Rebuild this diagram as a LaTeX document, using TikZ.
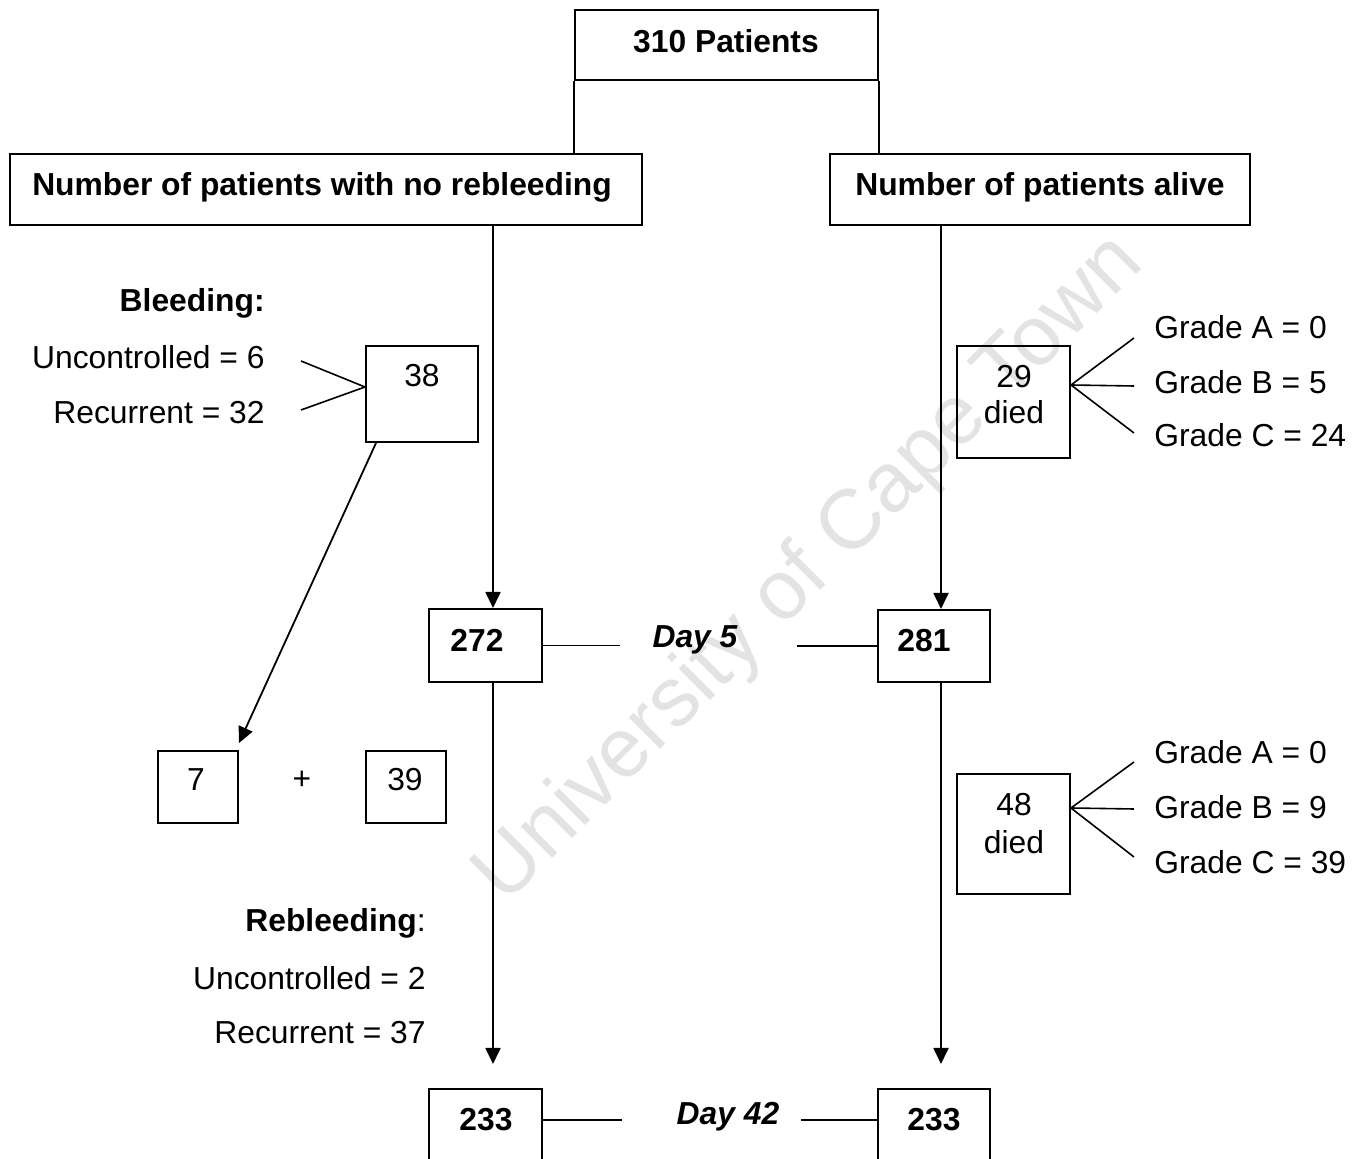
\documentclass[tikz,border=0pt]{standalone}
\usepackage{fontspec}
\setmainfont{Liberation Sans}
\usetikzlibrary{arrows.meta,calc}
\begin{document}
\begin{tikzpicture}[x=0.5pt,y=-0.5pt,
  font=\fontsize{15.9pt}{19pt}\selectfont,
  box/.style={draw, line width=1pt, inner sep=0pt},
  txt/.style={inner sep=0pt},
  bt/.style={inner sep=0pt, font=\fontsize{15.9pt}{19pt}\selectfont\bfseries},
  bit/.style={inner sep=0pt, font=\fontsize{15.9pt}{19pt}\selectfont\bfseries\itshape},
  ln/.style={line width=0.8pt},
  arr/.style={line width=0.9pt, -{Triangle[width=7.5pt,length=8pt]}},
  wmark/.style={inner sep=0pt, rotate=45, text=black!11, font=\fontsize{42pt}{50pt}\selectfont}
]
\useasboundingbox (0,0) rectangle (1356,1159);
\clip (0,0) rectangle (1356,1159);
\fill[white] (0,0) rectangle (1356,1159);
% watermark
\node[wmark] (wm) at (810,570) {University of Cape Town};

% boxes
\node[box, minimum width=151.5pt, minimum height=35pt] (top) at (726.5,45) {};
\node[box, minimum width=316pt, minimum height=35.5pt] (left) at (326,189.5) {};
\node[box, minimum width=210pt, minimum height=35.5pt] (right) at (1040,189.5) {};
\node[box, minimum width=56pt, minimum height=48pt] (b38) at (422,394) {};
\node[box, minimum width=56.5pt, minimum height=56pt] (d29) at (1013.5,402) {};
\node[box, minimum width=56.5pt, minimum height=36.5pt] (b272) at (485.5,645.5) {};
\node[box, minimum width=56pt, minimum height=36pt] (b281) at (934,646) {};
\node[box, minimum width=40pt, minimum height=36pt] (b7) at (198,787) {};
\node[box, minimum width=40pt, minimum height=36pt] (b39) at (406,787) {};
\node[box, minimum width=56.5pt, minimum height=60pt] (d48) at (1013.5,834) {};
\node[box, minimum width=56.5pt, minimum height=40pt] (b233l) at (485.5,1129) {};
\node[box, minimum width=56pt, minimum height=40pt] (b233r) at (934,1129) {};

% texts
\node[bt] (t310) at (726,41) {310 Patients};
\node[bt] (tleft) at (322,187) {Number of patients with no rebleeding};
\node[bt] (tright) at (1040,187) {Number of patients alive};
\node[bt, anchor=east] (bleed) at (265,303) {Bleeding:};
\node[txt, anchor=east] (unc6) at (265,357) {Uncontrolled = 6};
\node[txt, anchor=east] (rec32) at (265,413) {Recurrent = 32};
\node[txt] (t38) at (422,376) {38};
\node[txt] (t29) at (1014,377) {29};
\node[txt] (t29d) at (1014,412) {died};
\node[txt, anchor=west] (gA1) at (1154,327) {Grade A = 0};
\node[txt, anchor=west] (gB1) at (1154,382) {Grade B = 5};
\node[txt, anchor=west] (gC1) at (1154,435) {Grade C = 24};
\node[bt] (t272) at (477,640) {272};
\node[bt] (t281) at (924,641) {281};
\node[bit] (day5) at (695,640) {Day 5};
\node[txt] (t7) at (196,780) {7};
\node[txt] (plus) at (302,780) {+};
\node[txt] (t39) at (405,780) {39};
\node[txt] (t48) at (1014,805) {48};
\node[txt] (t48d) at (1014,842) {died};
\node[txt, anchor=west] (gA2) at (1154,752) {Grade A = 0};
\node[txt, anchor=west] (gB2) at (1154,807) {Grade B = 9};
\node[txt, anchor=west] (gC2) at (1154,862) {Grade C = 39};
\node[txt, anchor=east] (rebleed) at (426,923) {\textbf{Rebleeding}:};
\node[txt, anchor=east] (unc2) at (426,978) {Uncontrolled = 2};
\node[txt, anchor=east] (rec37) at (426,1033) {Recurrent = 37};
\node[bt] (t233l) at (486,1120) {233};
\node[bt] (t233r) at (934,1120) {233};
\node[bit] (day42) at (728,1117) {Day 42};

% connectors from top box
\draw[ln] (top.south west) -- (top.south west |- left.north);
\draw[ln] (top.south east) -- (top.south east |- right.north);

% main vertical arrows
\coordinate (xl) at (493,0);
\coordinate (xr) at (941,0);
\coordinate (endl) at ($(xl |- b233l.north)+(0,-24)$);
\coordinate (endr) at ($(xr |- b233r.north)+(0,-24)$);
\draw[arr] (xl |- left.south) -- (xl |- b272.north);
\draw[arr] (xr |- right.south) -- (xr |- b281.north);
\draw[arr] (xl |- b272.south) -- (endl);
\draw[arr] (xr |- b281.south) -- (endr);

% day lines
\draw[ln] (b272.east) -- ($(day5.west |- b272.east)+(-32,0)$);
\draw[ln] ($(day5.east |- b281.west)+(59,0)$) -- (b281.west);
\coordinate (d42y) at (0,1120);
\draw[ln] (b233l.east |- d42y) -- ($(day42.west |- d42y)+(-54,0)$);
\draw[ln] ($(day42.east |- d42y)+(21,0)$) -- (b233r.west |- d42y);

% bleeding fan
\coordinate (c38) at ($(b38.west)+(0,-7)$);
\draw[ln] ($(unc6.east)+(36,4)$) -- (c38) -- ($(rec32.east)+(36,-3)$);

% diagonal arrow
\draw[arr] ($(b38.south west)+(11,0)$) -- ($(b7.north east)+(0,-7)$);

% grade fans
\coordinate (c29) at ($(d29.north east)+(0,40)$);
\draw[ln] (c29) -- (1134,338);
\draw[ln] (c29) -- (1134,386);
\draw[ln] (c29) -- (1134,433);
\coordinate (c48) at ($(d48.north east)+(0,35)$);
\draw[ln] (c48) -- (1134,762);
\draw[ln] (c48) -- (1134,809);
\draw[ln] (c48) -- (1134,857);
\end{tikzpicture}
\end{document}
